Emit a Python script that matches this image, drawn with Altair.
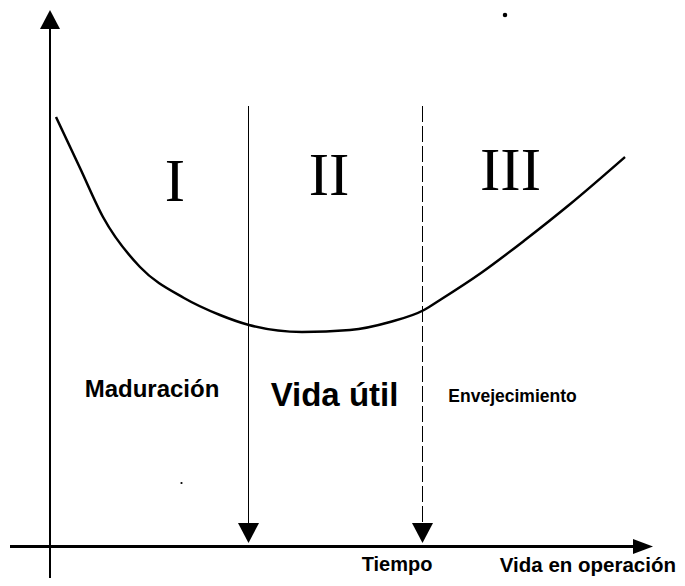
import altair as alt
import pandas as pd

# ---- data (time units, failure-rate units) ----
curve_t = [0.12, 0.6, 1.06, 1.8, 2.68, 3.4, 3.98, 5.04, 6.0, 6.8, 7.48, 7.8, 8.62, 9.5, 10.38, 11.5]
curve_rate = [8.59, 7.57, 6.59, 5.59, 4.97, 4.63, 4.43, 4.29, 4.33, 4.49, 4.73, 4.93, 5.47, 6.13, 6.83, 7.79]

boundary_t = [3.97, 7.45]
boundary_top = 8.81

numerals = ["I", "II", "III"]
numeral_t = [2.5, 5.58, 9.21]
numeral_y = [6.91, 7.03, 7.13]

phase_labels = ["Maduración", "Vida útil", "Envejecimiento"]
phase_t = [2.04, 5.69, 9.25]
phase_y = [3.0, 2.81, 2.9]

axis_labels = ["Tiempo", "Vida en operación"]
axis_label_t = [6.94, 12.52]
axis_label_y = [-0.48, -0.5]

XD = [-0.84, 12.54]
YD = [-0.63, 10.77]


def X(field="t"):
    return alt.X(f"{field}:Q", scale=alt.Scale(domain=XD, nice=False, zero=False), axis=None)


def Y(field="y"):
    return alt.Y(f"{field}:Q", scale=alt.Scale(domain=YD, nice=False, zero=False), axis=None)


curve_df = pd.DataFrame({"t": curve_t, "y": curve_rate})
curve = alt.Chart(curve_df).mark_line(color="black", strokeWidth=2.5, interpolate="monotone").encode(
    x=X(), y=Y())

# axes
yaxis = alt.Chart(pd.DataFrame({"t": [0.0], "y": [-0.8], "y2": [10.4]})).mark_rule(
    color="black", strokeWidth=2).encode(x=X(), y=Y(), y2="y2:Q")
xaxis = alt.Chart(pd.DataFrame({"t": [-0.8], "t2": [11.7], "y": [0.0]})).mark_rule(
    color="black", strokeWidth=3).encode(x=X(), x2="t2:Q", y=Y())

# phase boundaries
b1 = alt.Chart(pd.DataFrame({"t": [boundary_t[0]], "y": [boundary_top], "y2": [0.4]})).mark_rule(
    color="black", strokeWidth=1).encode(x=X(), y=Y(), y2="y2:Q")
b2 = alt.Chart(pd.DataFrame({"t": [boundary_t[1]], "y": [boundary_top], "y2": [0.4]})).mark_rule(
    color="black", strokeWidth=1, strokeDash=[16, 4]).encode(x=X(), y=Y(), y2="y2:Q")

# arrowheads (tip located at the data point)
up = alt.Chart(pd.DataFrame({"t": [0.0], "y": [10.73]})).mark_point(
    shape="M-1,1.9L1,1.9L0,0Z", size=400, filled=True, opacity=1, color="black").encode(x=X(), y=Y())
right = alt.Chart(pd.DataFrame({"t": [12.06], "y": [0.0]})).mark_point(
    shape="M-2,-0.75L0,0L-2,0.75Z", size=400, filled=True, opacity=1, color="black").encode(x=X(), y=Y())
down = alt.Chart(pd.DataFrame({"t": boundary_t, "y": [0.07, 0.07]})).mark_point(
    shape="M-1,-1.9L1,-1.9L0,0Z", size=441, filled=True, opacity=1, color="black").encode(x=X(), y=Y())

# specks
specks = alt.Chart(pd.DataFrame({"t": [9.1, 2.63], "y": [10.63, 1.27], "s": [20, 5]})).mark_circle(
    color="black", opacity=1).encode(x=X(), y=Y(), size=alt.Size("s:Q", scale=None, legend=None))

# texts
num_df = pd.DataFrame({"t": numeral_t, "y": numeral_y, "label": numerals})
num_text = alt.Chart(num_df).mark_text(
    font="Liberation Serif", fontSize=61, baseline="alphabetic", align="center", color="black").encode(
    x=X(), y=Y(), text="label:N")

SANS = "Liberation Sans"
mad = alt.Chart(pd.DataFrame({"t": [phase_t[0]], "y": [phase_y[0]], "label": [phase_labels[0]]})).mark_text(
    font=SANS, fontSize=24, fontWeight="bold",
    baseline="alphabetic", align="center", color="black").encode(x=X(), y=Y(), text="label:N")
vida = alt.Chart(pd.DataFrame({"t": [phase_t[1]], "y": [phase_y[1]], "label": [phase_labels[1]]})).mark_text(
    font=SANS, fontSize=33, fontWeight="bold",
    baseline="alphabetic", align="center", color="black").encode(x=X(), y=Y(), text="label:N")
env = alt.Chart(pd.DataFrame({"t": [phase_t[2]], "y": [phase_y[2]], "label": [phase_labels[2]]})).mark_text(
    font=SANS, fontSize=17.5, fontWeight="bold",
    baseline="alphabetic", align="center", color="black").encode(x=X(), y=Y(), text="label:N")

tiempo = alt.Chart(pd.DataFrame({"t": [axis_label_t[0]], "y": [axis_label_y[0]], "label": [axis_labels[0]]})).mark_text(
    font=SANS, fontSize=20, fontWeight="bold",
    baseline="alphabetic", align="center", color="black").encode(x=X(), y=Y(), text="label:N")
vop = alt.Chart(pd.DataFrame({"t": [axis_label_t[1]], "y": [axis_label_y[1]], "label": [axis_labels[1]]})).mark_text(
    font=SANS, fontSize=20.5, fontWeight="bold",
    baseline="alphabetic", align="right", color="black").encode(x=X(), y=Y(), text="label:N")

chart = alt.layer(
    yaxis, xaxis, b1, b2, curve, up, right, down, specks,
    num_text, mad, vida, env, tiempo, vop
).properties(
    width=669, height=570, padding=0, autosize=alt.AutoSizeParams(type="none"), background="white"
).configure_view(stroke=None)

chart.save("out.html", embed_options={"renderer": "svg", "actions": False})
